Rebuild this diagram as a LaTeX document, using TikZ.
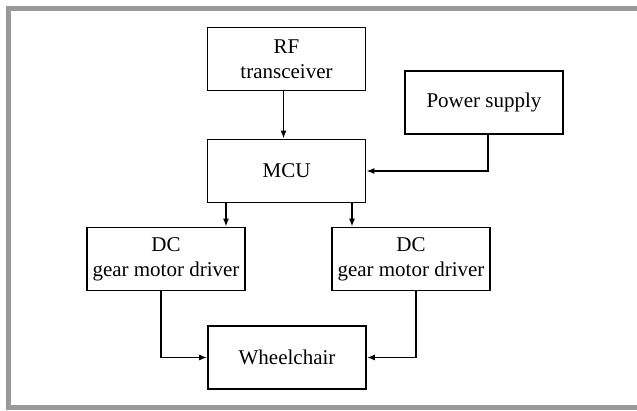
\documentclass[tikz,border=0pt]{standalone}
\usepackage{fontspec}
\setmainfont{Liberation Serif}
\usetikzlibrary{arrows.meta}
\definecolor{framegray}{RGB}{153,153,153}
\begin{document}
\begin{tikzpicture}[x=1pt,y=-1pt,
  blk/.style={draw, line width=1.6pt, minimum width=158pt, minimum height=63pt, inner sep=0pt,
    align=center, font=\fontsize{21}{25}\selectfont},
  conn/.style={line width=1.6pt},
  arr/.style={conn, -{Latex[length=8pt,width=6pt]}}]
\useasboundingbox (0,0) rectangle (637,410);
\fill[white] (0,0) rectangle (637,410);
\fill[framegray] (6,6) rectangle (637,11);
\fill[framegray] (6,6) rectangle (11,410);
\fill[framegray] (6,405) rectangle (637,410);

\node[blk] (rf) at (286.5,59) {RF\\transceiver};
\node[blk] (mcu) at (286.5,171) {MCU};
\node[blk] (pwr) at (484,102.5) {Power supply};
\node[blk] (dcl) at (166,259) {DC\\gear motor driver};
\node[blk] (dcr) at (411,259) {DC\\gear motor driver};
\node[blk] (wc) at (287,357.5) {Wheelchair};

\draw[arr] ([xshift=-3pt]rf.south) -- ([xshift=-3pt]mcu.north);
\draw[arr] ([xshift=4pt]pwr.south) |- (mcu.east);
\draw[arr] ([xshift=-60.5pt]mcu.south) -- ([xshift=-60.5pt]mcu.south |- dcl.north);
\draw[arr] ([xshift=65.5pt]mcu.south) -- ([xshift=65.5pt]mcu.south |- dcr.north);
\draw[arr] ([xshift=-5pt]dcl.south) |- (wc.west);
\draw[arr] ([xshift=5pt]dcr.south) |- (wc.east);
\end{tikzpicture}
\end{document}
